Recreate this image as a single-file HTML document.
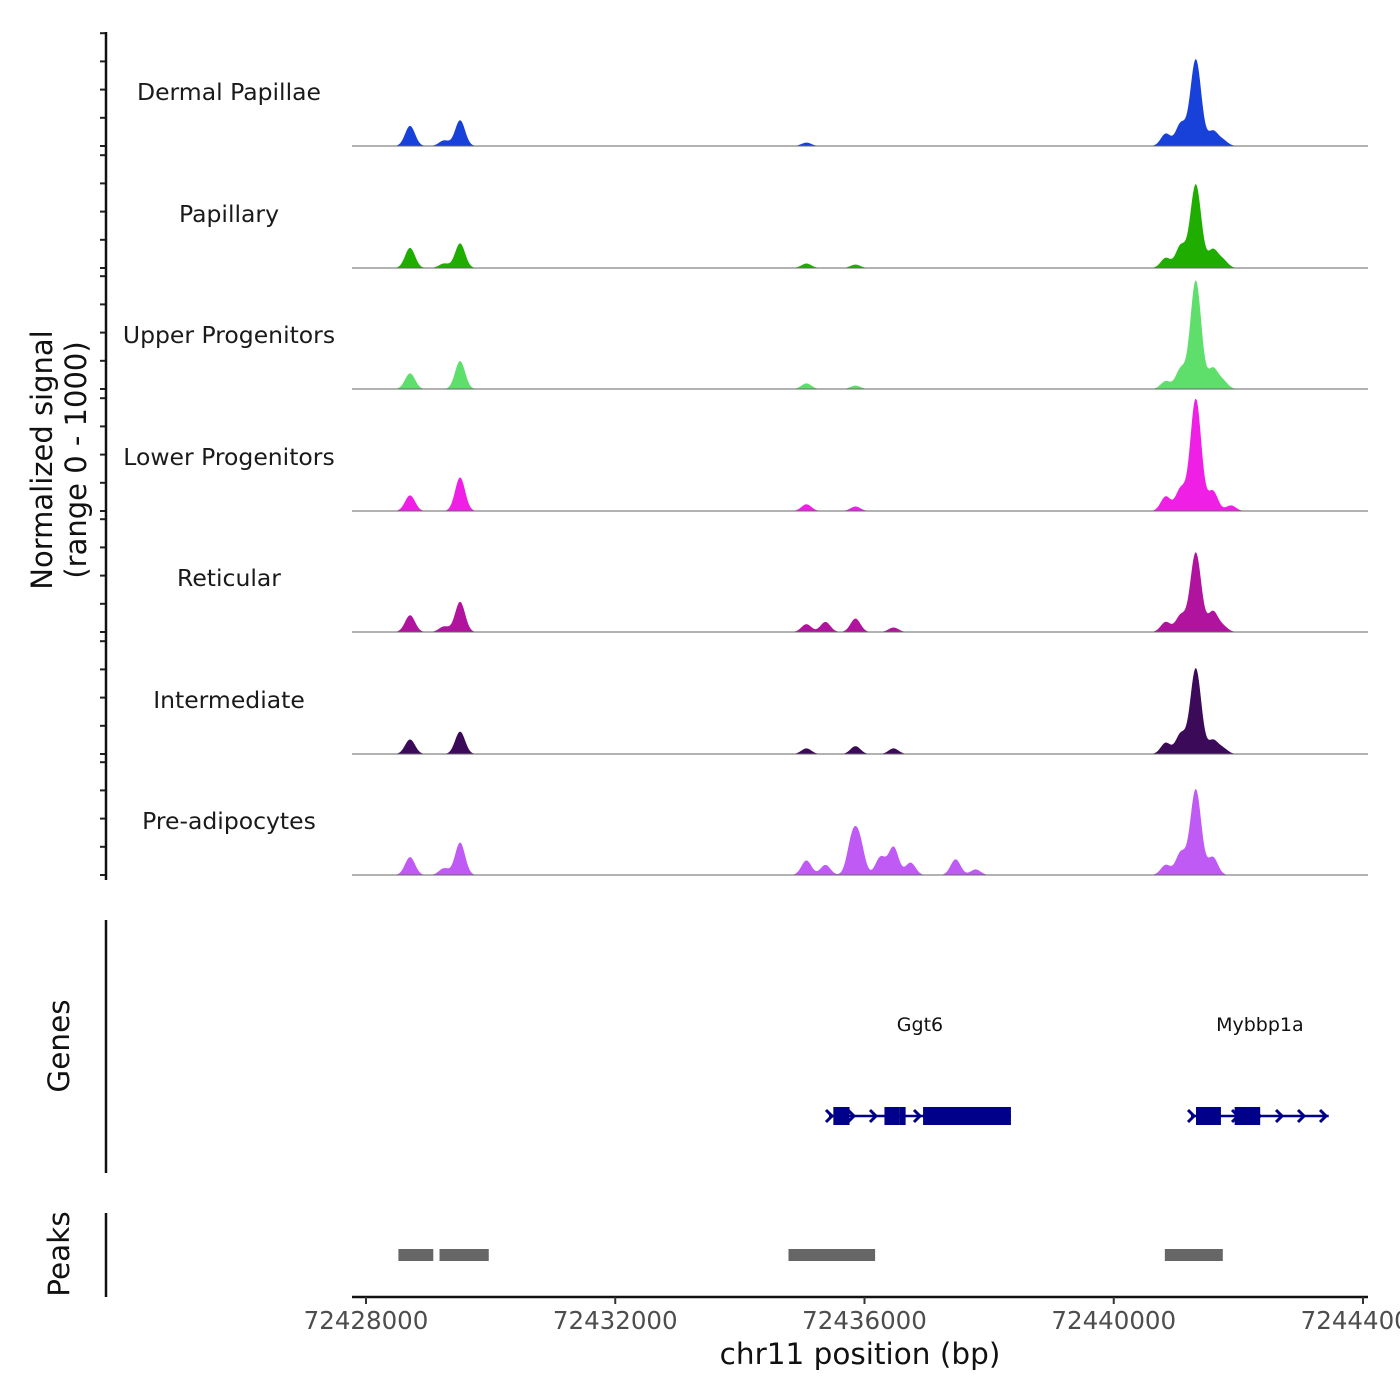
<!DOCTYPE html>
<html><head><meta charset="utf-8"><style>
html,body{margin:0;padding:0;background:#fff;}
svg{display:block;font-family:"DejaVu Sans","Liberation Sans",sans-serif;}
</style></head><body>
<svg id="chart" width="1400" height="1400" viewBox="0 0 1400 1400" xmlns="http://www.w3.org/2000/svg">
<g id="tracks"></g>
<g id="genes"></g>
<g id="peaks"></g>
<g id="axes"></g>
</svg>
<script>
const trackNames = ["Dermal Papillae","Papillary","Upper Progenitors","Lower Progenitors","Reticular","Intermediate","Pre-adipocytes"];
const trackColors = ["#1741d9","#1fae00","#5ede6a","#f01fe6","#b0149e","#3b0a59","#bf5af5"];
const peakCenters = [
 [72428707,72429253,72429510,72435068,72440835,72441076,72441285,72441349,72441590,72441751],
 [72428707,72429253,72429510,72435068,72435855,72440835,72441076,72441285,72441349,72441590,72441751],
 [72428707,72429510,72435068,72435855,72440835,72441076,72441285,72441349,72441590,72441751],
 [72428707,72429510,72435068,72435855,72440835,72441076,72441285,72441349,72441590,72441880],
 [72428707,72429253,72429510,72435068,72435373,72435855,72436466,72440835,72441076,72441285,72441349,72441590,72441751],
 [72428707,72429510,72435068,72435855,72436466,72440835,72441076,72441285,72441349,72441590,72441751],
 [72428707,72429253,72429510,72435068,72435373,72435800,72435920,72436257,72436466,72436739,72437462,72437783,72440835,72441076,72441285,72441349,72441590]
];
const peakHeights = [
 [0.18,0.05,0.23,0.03,0.11,0.2,0.42,0.42,0.13,0.05],
 [0.18,0.04,0.22,0.04,0.03,0.09,0.2,0.41,0.4,0.16,0.07],
 [0.14,0.25,0.05,0.03,0.07,0.18,0.53,0.52,0.18,0.07],
 [0.14,0.3,0.06,0.04,0.13,0.2,0.55,0.54,0.18,0.05],
 [0.15,0.05,0.27,0.07,0.09,0.12,0.04,0.09,0.15,0.39,0.38,0.18,0.05],
 [0.13,0.2,0.05,0.07,0.05,0.1,0.18,0.42,0.41,0.12,0.05],
 [0.16,0.06,0.29,0.13,0.09,0.3,0.28,0.16,0.25,0.11,0.14,0.05,0.09,0.2,0.42,0.41,0.16]
];
const xTicks = [72428000,72432000,72436000,72440000,72444000];
const xTickLabels = ["72428000","72432000","72436000","72440000","72444000"];
const geneNames = ["Ggt6","Mybbp1a"];
const geneStarts = [72435430,72441240];
const geneEnds = [72438350,72443450];
const exonStarts = [72435500,72436320,72436560,72436940,72441320,72441940,72442050];
const exonEnds = [72435760,72436560,72436660,72438350,72441720,72442050,72442350];
const peakStarts = [72428520,72429180,72434780,72440820];
const peakEnds = [72429080,72429970,72436170,72441750];

const NS="http://www.w3.org/2000/svg";
function mk(tag,attrs,parent){const e=document.createElementNS(NS,tag);for(const k in attrs)e.setAttribute(k,attrs[k]);parent.appendChild(e);return e;}
const X0=72428000, PX0=366, PXPB=(1363-366)/16000;
function xs(bp){return PX0+(bp-X0)*PXPB;}
const baselines=[146,268,389,511,632,754,875];
const panelH=112;
const tracksG=document.getElementById('tracks');
const axesG=document.getElementById('axes');
const sigma=80;
for(let t=0;t<trackNames.length;t++){
  const b=baselines[t];
  const g=mk('g',{},tracksG);
  
  
  let d='M352,'+b;
  for(let px=352;px<=1368;px+=1){
    const bp=X0+(px-PX0)/PXPB;
    let v=0;
    for(let i=0;i<peakCenters[t].length;i++){const z=(bp-peakCenters[t][i])/sigma;v+=peakHeights[t][i]*Math.exp(-0.5*z*z);}
    d+=' L'+px+','+(b-Math.min(v,1)*panelH).toFixed(2);
  }
  d+=' L1368,'+b+' Z';
  const p=mk('path',{d:d,fill:trackColors[t]},g);
  
  
  const bl=mk('line',{x1:352,x2:1368,y1:b,y2:b,stroke:'#666','stroke-width':1},g);
  
  
  const lab=mk('text',{x:229,y:b-46,'text-anchor':'middle','font-size':23.5,fill:'#1a1a1a'},g);
  lab.textContent=trackNames[t];
  
  
  for(let k=0;k<5;k++){
    const y=b-k*28.2;
    const tk=mk('line',{x1:100,x2:106,y1:y,y2:y,stroke:'#222','stroke-width':2},axesG);
    
    
  }
}
[[32,880,'signal-y-axis'],[920,1173,'genes-y-axis'],[1213,1297,'peaks-y-axis']].forEach(a=>{
  const l=mk('line',{x1:106,x2:106,y1:a[0],y2:a[1],stroke:'#111','stroke-width':2.5},axesG);
  
  
});
const yt=mk('text',{transform:'translate(52,460) rotate(-90)','text-anchor':'middle','font-size':29,fill:'#111'},axesG);


yt.innerHTML='<tspan x="0" dy="0">Normalized signal</tspan><tspan x="0" dy="34">(range 0 - 1000)</tspan>';
const gt=mk('text',{transform:'translate(69,1046) rotate(-90)','text-anchor':'middle','font-size':29.5,fill:'#111'},axesG);
gt.textContent='Genes';


const pt=mk('text',{transform:'translate(69,1254) rotate(-90)','text-anchor':'middle','font-size':29.5,fill:'#111'},axesG);
pt.textContent='Peaks';


const genesG=document.getElementById('genes');
const gy=1116;
for(let i=0;i<geneNames.length;i++){
  const x1=xs(geneStarts[i]),x2=xs(geneEnds[i]);
  const gl=mk('line',{x1:x1,x2:x2,y1:gy,y2:gy,stroke:'#00008b','stroke-width':2.5},genesG);
  
  
  for(let ax=x1+2;ax<=x2+1;ax+=22){
    const ar=mk('path',{d:'M'+(ax-5)+','+(gy-6)+' L'+(ax+1)+','+gy+' L'+(ax-5)+','+(gy+6),fill:'none',stroke:'#00008b','stroke-width':3},genesG);
    
    
  }
  const lt=mk('text',{x:(x1+x2)/2,y:1031,'text-anchor':'middle','font-size':19,fill:'#111'},genesG);
  lt.textContent=geneNames[i];
  
  
}
for(let i=0;i<exonStarts.length;i++){
  const r=mk('rect',{x:xs(exonStarts[i]),y:gy-9,width:xs(exonEnds[i])-xs(exonStarts[i]),height:18,fill:'#00008b'},genesG);
  
  
}
const peaksG=document.getElementById('peaks');
for(let i=0;i<peakStarts.length;i++){
  const r=mk('rect',{x:xs(peakStarts[i]),y:1249,width:xs(peakEnds[i])-xs(peakStarts[i]),height:12,fill:'#666'},peaksG);
  
  
}
const xl=mk('line',{x1:352,x2:1368,y1:1297,y2:1297,stroke:'#111','stroke-width':2.5},axesG);


for(let i=0;i<xTicks.length;i++){
  const x=xs(xTicks[i]);
  const tk=mk('line',{x1:x,x2:x,y1:1297,y2:1304,stroke:'#333','stroke-width':2},axesG);
  
  
  const tl=mk('text',{x:x,y:1329,'text-anchor':'middle','font-size':24.5,fill:'#4d4d4d'},axesG);
  tl.textContent=xTickLabels[i];
  
  
}
const xt=mk('text',{x:860,y:1364,'text-anchor':'middle','font-size':29.5,fill:'#111'},axesG);
xt.textContent='chr11 position (bp)';


</script>
</body></html>
